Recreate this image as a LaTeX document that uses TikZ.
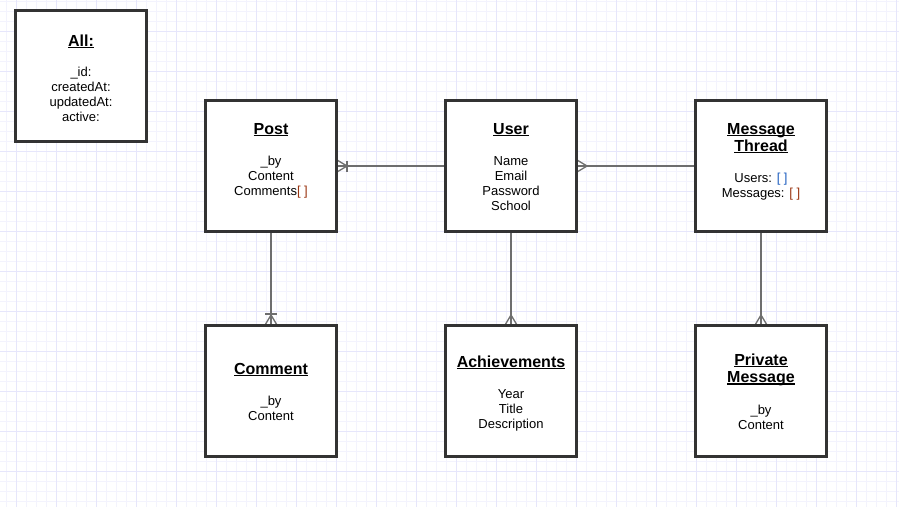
\documentclass[tikz,border=0pt]{standalone}
\usepackage{fontspec}
\setmainfont{Liberation Sans}
\definecolor{boxc}{HTML}{333333}
\definecolor{connc}{HTML}{6E6E6E}
\definecolor{gridminor}{HTML}{F3F3FD}
\definecolor{gridmajor}{HTML}{E6E6FB}
\definecolor{brkred}{HTML}{9A3410}
\definecolor{brkblue}{HTML}{1F5FC0}
\newcommand\myul[1]{\leavevmode\setbox0\hbox{#1}\rlap{\rule[-2pt]{\wd0}{1.2pt}}\box0}
\tikzset{
  box/.style={draw=boxc, line width=2pt, fill=white, minimum width=130pt, minimum height=130pt, inner sep=0pt},
  ttl/.style={font=\fontsize{16}{17.5}\selectfont\bfseries, anchor=base, inner sep=0pt},
  bdy/.style={font=\fontsize{13}{15}\selectfont, anchor=base, inner sep=0pt},
  conn/.style={draw=connc, line width=1.3pt},
  gminor/.style={draw=gridminor, line width=1pt},
  gmajor/.style={draw=gridmajor, line width=1pt}
}
\begin{document}
\begin{tikzpicture}[x=1pt,y=-1pt]
\useasboundingbox (0,0) rectangle (899,507);
\fill[white] (0,0) rectangle (899,507);
% grid
\foreach \x in {6,16,...,896} \draw[gminor] (\x,0) -- (\x,507);
\foreach \y in {1,11,...,501} \draw[gminor] (0,\y) -- (899,\y);
\foreach \x in {16,56,...,896} \draw[gmajor] (\x,0) -- (\x,507);
\foreach \y in {31,71,...,501} \draw[gmajor] (0,\y) -- (899,\y);

% boxes
\node[box] (all) at (81,76) {};
\node[box] (post) at (271,166) {};
\node[box] (user) at (511,166) {};
\node[box] (thread) at (761,166) {};
\node[box] (comment) at (271,391) {};
\node[box] (achv) at (511,391) {};
\node[box] (pm) at (761,391) {};

% connectors
\draw[conn] (post.east) -- (user.west);
\draw[conn] ([yshift=6pt]post.east) -- ([xshift=10pt]post.east) -- ([yshift=-6pt]post.east);
\draw[conn] ([xshift=10pt,yshift=5.5pt]post.east) -- ([xshift=10pt,yshift=-5.5pt]post.east);

\draw[conn] (user.east) -- (thread.west);
\draw[conn] ([yshift=6pt]user.east) -- ([xshift=10pt]user.east) -- ([yshift=-6pt]user.east);

\draw[conn] (post.south) -- (comment.north);
\draw[conn] ([xshift=-6pt]comment.north) -- ([yshift=10pt]comment.north) -- ([xshift=6pt]comment.north);
\draw[conn] ([xshift=-6pt,yshift=11pt]comment.north) -- ([xshift=6pt,yshift=11pt]comment.north);

\draw[conn] (user.south) -- (achv.north);
\draw[conn] ([xshift=-6pt]achv.north) -- ([yshift=10pt]achv.north) -- ([xshift=6pt]achv.north);

\draw[conn] (thread.south) -- (pm.north);
\draw[conn] ([xshift=-6pt]pm.north) -- ([yshift=10pt]pm.north) -- ([xshift=6pt]pm.north);

% redraw box borders on top of connector ends
\foreach \b in {all,post,user,thread,comment,achv,pm}
  \draw[boxc, line width=2pt] (\b.north west) rectangle (\b.south east);

% All
\node[ttl] (all-t) at (81,46) {\myul{All:}};
\node[bdy] (all-1) at (81,76) {\_id:};
\node[bdy] (all-2) at (81,91) {createdAt:};
\node[bdy] (all-3) at (81,106) {updatedAt:};
\node[bdy] (all-4) at (81,121) {active:};

% Post
\node[ttl] (post-t) at (271,134) {\myul{Post}};
\node[bdy] (post-1) at (271,165) {\_by};
\node[bdy] (post-2) at (271,180) {Content};
\node[bdy] (post-3) at (271,195) {Comments\textcolor{brkred}{[ ]}};

% User
\node[ttl] (user-t) at (511,134) {\myul{User}};
\node[bdy] (user-1) at (511,165) {Name};
\node[bdy] (user-2) at (511,180) {Email};
\node[bdy] (user-3) at (511,195) {Password};
\node[bdy] (user-4) at (511,210) {School};

% Message Thread
\node[ttl] (thread-t1) at (761,134) {\myul{Message}};
\node[ttl] (thread-t2) at (761,151) {\myul{Thread}};
\node[bdy] (thread-1) at (761,182) {Users: \textcolor{brkblue}{[ ]}};
\node[bdy] (thread-2) at (761,197) {Messages: \textcolor{brkred}{[ ]}};

% Comment
\node[ttl] (comment-t) at (271,374) {\myul{Comment}};
\node[bdy] (comment-1) at (271,405) {\_by};
\node[bdy] (comment-2) at (271,420) {Content};

% Achievements
\node[ttl] (achv-t) at (511,367) {\myul{Achievements}};
\node[bdy] (achv-1) at (511,398) {Year};
\node[bdy] (achv-2) at (511,413) {Title};
\node[bdy] (achv-3) at (511,428) {Description};

% Private Message
\node[ttl] (pm-t1) at (761,365) {\myul{Private}};
\node[ttl] (pm-t2) at (761,382.5) {\myul{Message}};
\node[bdy] (pm-1) at (761,414) {\_by};
\node[bdy] (pm-2) at (761,429) {Content};
\end{tikzpicture}
\end{document}
